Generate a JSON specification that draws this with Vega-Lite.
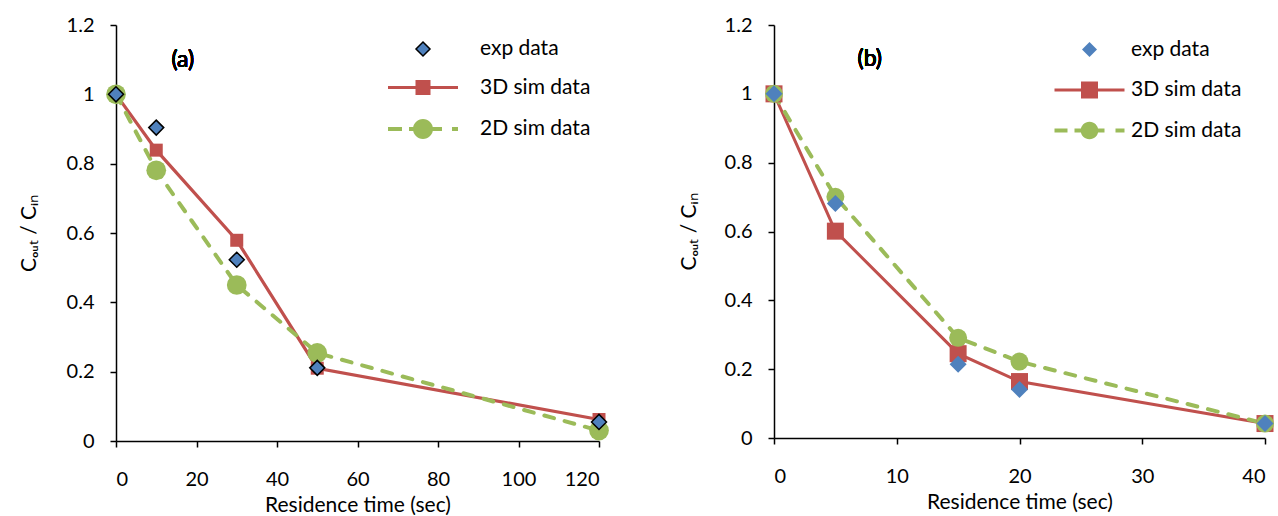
{
  "$schema": "https://vega.github.io/schema/vega-lite/v6.json",
  "padding": {"left": 18, "top": 15, "right": 0, "bottom": 0},
  "background": "white",
  "config": {
    "view": {"stroke": null},
    "font": "Lato",
    "axis": {
      "labelFont": "Lato", "titleFont": "Lato", "labelFontSize": 20, "titleFontSize": 21,
      "titleFontWeight": "normal", "labelColor": "#000", "titleColor": "#000",
      "domainColor": "#000", "tickColor": "#000", "domainWidth": 1.5, "tickWidth": 1.5,
      "tickSize": 6, "grid": false
    },
    "axisX": {"labelPadding": 22, "titlePadding": 5},
    "axisY": {"labelPadding": 16, "titlePadding": 27}
  },
  "datasets": {
    "a": [
      {"series": "exp data", "t": 0, "v": 1.0},
      {"series": "exp data", "t": 10, "v": 0.904},
      {"series": "exp data", "t": 30, "v": 0.523},
      {"series": "exp data", "t": 50, "v": 0.211},
      {"series": "exp data", "t": 120, "v": 0.055},
      {"series": "3D sim data", "t": 0, "v": 1.0},
      {"series": "3D sim data", "t": 10, "v": 0.839},
      {"series": "3D sim data", "t": 30, "v": 0.579},
      {"series": "3D sim data", "t": 50, "v": 0.21},
      {"series": "3D sim data", "t": 120, "v": 0.062},
      {"series": "2D sim data", "t": 0, "v": 1.0},
      {"series": "2D sim data", "t": 10, "v": 0.781},
      {"series": "2D sim data", "t": 30, "v": 0.45},
      {"series": "2D sim data", "t": 50, "v": 0.254},
      {"series": "2D sim data", "t": 120, "v": 0.03}
    ],
    "b": [
      {"series": "exp data", "t": 0, "v": 1.0},
      {"series": "exp data", "t": 5, "v": 0.681},
      {"series": "exp data", "t": 15, "v": 0.214},
      {"series": "exp data", "t": 20, "v": 0.141},
      {"series": "exp data", "t": 40, "v": 0.042},
      {"series": "3D sim data", "t": 0, "v": 1.0},
      {"series": "3D sim data", "t": 5, "v": 0.601},
      {"series": "3D sim data", "t": 15, "v": 0.245},
      {"series": "3D sim data", "t": 20, "v": 0.164},
      {"series": "3D sim data", "t": 40, "v": 0.042},
      {"series": "2D sim data", "t": 0, "v": 1.0},
      {"series": "2D sim data", "t": 5, "v": 0.701},
      {"series": "2D sim data", "t": 15, "v": 0.291},
      {"series": "2D sim data", "t": 20, "v": 0.222},
      {"series": "2D sim data", "t": 40, "v": 0.042}
    ]
  },
  "bounds": "flush",
  "spacing": 175,
  "resolve": {"scale": {"color": "independent", "x": "independent", "y": "independent"}, "legend": {"color": "independent"}},
  "hconcat": [
    {
      "width": 483, "height": 416,
      "data": {"name": "a"},
      "encoding": {
        "x": {"field": "t", "type": "quantitative", "title": "Residence time (sec)", "scale": {"domain": [0, 120], "nice": false}, "axis": {"values": [0, 20, 40, 60, 80, 100, 120]}},
        "y": {"field": "v", "type": "quantitative", "title": "Cₒᵤₜ / Cᵢₙ", "scale": {"domain": [0, 1.2], "nice": false}, "axis": {"values": [0, 0.2, 0.4, 0.6, 0.8, 1, 1.2], "format": "~g"}}
      },
      "layer": [
        {"transform": [{"filter": "datum.series === '3D sim data'"}], "mark": {"type": "line", "color": "#C0504D", "strokeWidth": 3.2}},
        {"transform": [{"filter": "datum.series === '2D sim data'"}], "mark": {"type": "line", "color": "#9BBB59", "strokeWidth": 4, "strokeDash": [10, 11], "strokeCap": "round"}},
        {"transform": [{"filter": "datum.series === '3D sim data'"}], "mark": {"type": "point", "shape": "square", "filled": true, "size": 169, "opacity": 1},
         "encoding": {"color": {"field": "series", "type": "nominal", "scale": {"domain": ["exp data", "3D sim data", "2D sim data"], "range": ["#4F81BD", "#C0504D", "#9BBB59"]},
           "legend": {"title": null, "orient": "none", "legendX": 271, "legendY": 13, "padding": 0, "symbolSize": 400, "symbolStrokeWidth": 1.5, "symbolOffset": 25, "labelOffset": 46, "rowPadding": 17.5, "labelFont": "Lato", "labelFontSize": 21, "labelColor": "#000", "symbolOpacity": 1,
             "encode": {"symbols": {"update": {
               "shape": {"signal": "datum.value === 'exp data' ? 'M0,-0.7L0.7,0L0,0.7L-0.7,0Z' : datum.value === '3D sim data' ? 'M-3.5,-0.16H3.5V0.16H-3.5ZM-0.75,-0.75H0.75V0.75H-0.75Z' : 'M-3.5,-0.2H-2.1V0.2H-3.5ZM-1.4,-0.2H1.9V0.2H-1.4ZM2.9,-0.2H3.5V0.2H2.9ZM-1,0A1,1 0 1,1 1,0A1,1 0 1,1 -1,0Z'"},
               "fill": {"signal": "datum.value === 'exp data' ? '#4F81BD' : datum.value === '3D sim data' ? '#C0504D' : '#9BBB59'"},
               "stroke": {"signal": "datum.value === 'exp data' ? '#000000' : 'transparent'"}
             }}}}}}},
        {"transform": [{"filter": "datum.series === '2D sim data'"}], "mark": {"type": "point", "shape": "circle", "filled": true, "size": 390, "opacity": 1},
         "encoding": {"color": {"field": "series", "type": "nominal", "scale": {"domain": ["exp data", "3D sim data", "2D sim data"], "range": ["#4F81BD", "#C0504D", "#9BBB59"]}}}},
        {"transform": [{"filter": "datum.series === 'exp data'"}], "mark": {"type": "point", "shape": "diamond", "filled": true, "size": 225, "opacity": 1, "stroke": "#000000", "strokeWidth": 1.5},
         "encoding": {"color": {"field": "series", "type": "nominal", "scale": {"domain": ["exp data", "3D sim data", "2D sim data"], "range": ["#4F81BD", "#C0504D", "#9BBB59"]}}}},
        {"mark": {"type": "text", "text": "(a)", "font": "Lato", "fontSize": 23, "fontWeight": 400, "color": "#000"},
         "encoding": {"x": {"datum": 16.6, "type": "quantitative"}, "y": {"datum": 1.1, "type": "quantitative"}}}
      ]
    },
    {
      "width": 491, "height": 413,
      "data": {"name": "b"},
      "encoding": {
        "x": {"field": "t", "type": "quantitative", "title": "Residence time (sec)", "scale": {"domain": [0, 40], "nice": false}, "axis": {"values": [0, 10, 20, 30, 40]}},
        "y": {"field": "v", "type": "quantitative", "title": "Cₒᵤₜ / Cᵢₙ", "scale": {"domain": [0, 1.2], "nice": false}, "axis": {"values": [0, 0.2, 0.4, 0.6, 0.8, 1, 1.2], "format": "~g", "titlePadding": 25}}
      },
      "layer": [
        {"transform": [{"filter": "datum.series === '3D sim data'"}], "mark": {"type": "line", "color": "#C0504D", "strokeWidth": 3}},
        {"transform": [{"filter": "datum.series === '2D sim data'"}], "mark": {"type": "line", "color": "#9BBB59", "strokeWidth": 4, "strokeDash": [10, 11], "strokeCap": "round"}},
        {"transform": [{"filter": "datum.series === '3D sim data'"}], "mark": {"type": "point", "shape": "square", "filled": true, "size": 289, "opacity": 1},
         "encoding": {"color": {"field": "series", "type": "nominal", "scale": {"domain": ["exp data", "3D sim data", "2D sim data"], "range": ["#4F81BD", "#C0504D", "#9BBB59"]},
           "legend": {"title": null, "orient": "none", "legendX": 280, "legendY": 14, "padding": 0, "symbolSize": 400, "symbolStrokeWidth": 0, "symbolOffset": 25, "labelOffset": 31, "rowPadding": 18.5, "labelFont": "Lato", "labelFontSize": 21, "labelColor": "#000", "symbolOpacity": 1,
             "encode": {"symbols": {"update": {
               "shape": {"signal": "datum.value === 'exp data' ? 'M0,-0.75L0.75,0L0,0.75L-0.75,0Z' : datum.value === '3D sim data' ? 'M-3.5,-0.16H3.5V0.16H-3.5ZM-0.85,-0.85H0.85V0.85H-0.85Z' : 'M-3.5,-0.2H-2.2V0.2H-3.5ZM-1.5,-0.2H1.5V0.2H-1.5ZM2.6,-0.2H3.5V0.2H2.6ZM-0.88,0A0.88,0.88 0 1,1 0.88,0A0.88,0.88 0 1,1 -0.88,0Z'"},
               "fill": {"signal": "datum.value === 'exp data' ? '#4F81BD' : datum.value === '3D sim data' ? '#C0504D' : '#9BBB59'"}
             }}}}}}},
        {"transform": [{"filter": "datum.series === '2D sim data'"}], "mark": {"type": "point", "shape": "circle", "filled": true, "size": 324, "opacity": 1},
         "encoding": {"color": {"field": "series", "type": "nominal", "scale": {"domain": ["exp data", "3D sim data", "2D sim data"], "range": ["#4F81BD", "#C0504D", "#9BBB59"]}}}},
        {"transform": [{"filter": "datum.series === 'exp data'"}], "mark": {"type": "point", "shape": "diamond", "filled": true, "size": 289, "opacity": 1},
         "encoding": {"color": {"field": "series", "type": "nominal", "scale": {"domain": ["exp data", "3D sim data", "2D sim data"], "range": ["#4F81BD", "#C0504D", "#9BBB59"]}}}},
        {"mark": {"type": "text", "text": "(b)", "font": "Lato", "fontSize": 23, "fontWeight": 400, "color": "#000"},
         "encoding": {"x": {"datum": 7.8, "type": "quantitative"}, "y": {"datum": 1.1, "type": "quantitative"}}}
      ]
    }
  ]
}
